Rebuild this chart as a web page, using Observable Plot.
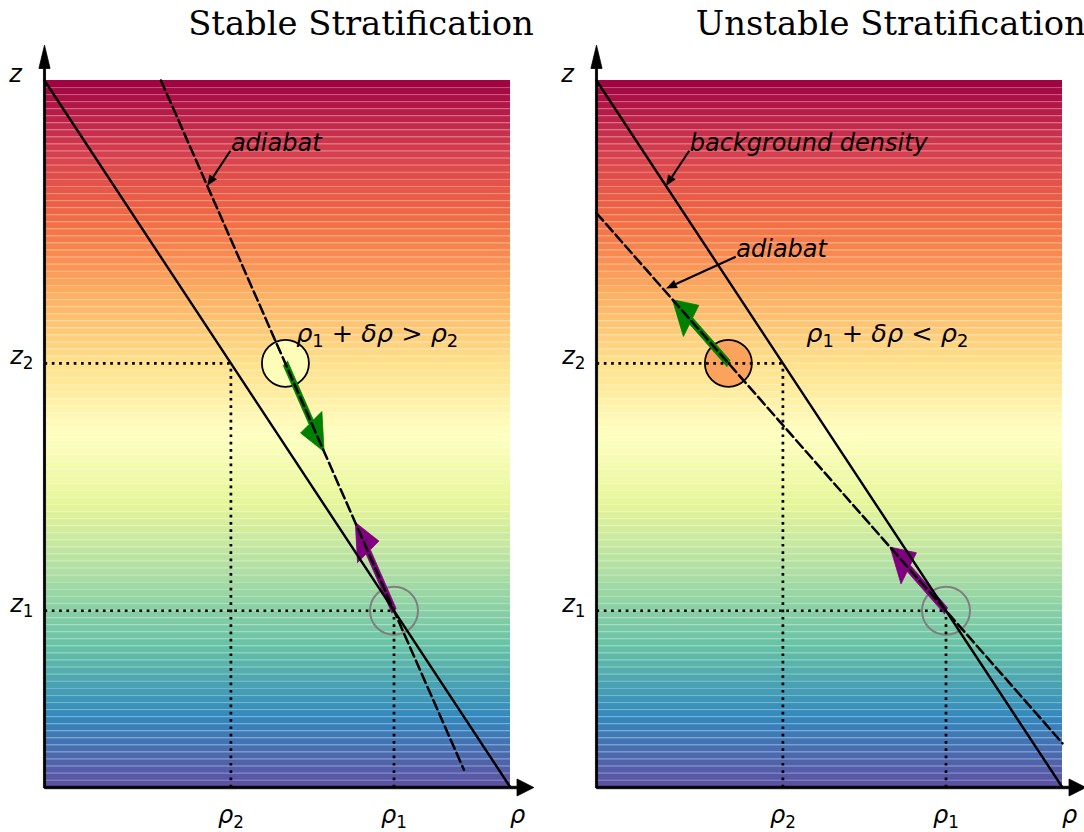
<!DOCTYPE html>
<html>
<head>
<meta charset="utf-8">
<script src="https://cdn.jsdelivr.net/npm/d3@7"></script>
<script src="https://cdn.jsdelivr.net/npm/@observablehq/plot@0.6"></script>
<style>
  body { margin: 0; background: #fff; }
  #chart { display: flex; width: 1084px; height: 832px; }
  #chart svg { overflow: visible; flex: none; }
</style>
</head>
<body>
<div id="chart"></div>
<script>
// ColorBrewer Spectral, interpolated linearly between its 11 stops
const spectralStops = ["#9e0142", "#d53e4f", "#f46d43", "#fdae61", "#fee08b", "#ffffbf",
                       "#e6f598", "#abdda4", "#66c2a5", "#3288bd", "#5e4fa2"];
const spectral = d3.piecewise(d3.interpolateRgb, spectralStops);

// Horizontal colour bands of the background stratification (z = 0 bottom, 1 top)
const bandCount = 100;
const bands = d3.range(bandCount).map(i => ({z1: i / bandCount, z2: (i + 1) / bandCount}));

const panelTitles = ["Stable Stratification", "Unstable Stratification"];

// Two reference levels: heights z1, z2 and background densities ρ1, ρ2
const levelNames = ["1", "2"];
const zLevel = [0.25, 0.6];
const rhoLevel = [0.75, 0.4];

// Background density profile (linear, ρ = 1 − z)
const backgroundRho = [0, 1];
const backgroundZ = [1, 0];

// Adiabats through (ρ1, z1)
const adiabatStableRho = [0.25, 0.9];
const adiabatStableZ = [1, 0.025];
const adiabatUnstableRho = [0, 1];
const adiabatUnstableZ = [0.8125, 0.0625];

// Density the lifted parcel carries once it reaches z2
const parcelRho = [0.517, 0.283];

// Displacement arrows: [ρ tail, z tail, ρ tip, z tip]
const liftStable = [0.75, 0.25, 0.667, 0.375];
const forceStable = [0.517, 0.6, 0.6, 0.475];
const liftUnstable = [0.75, 0.25, 0.63, 0.34];
const forceUnstable = [0.283, 0.6, 0.163, 0.69];

// Annotations: label, text anchor (ρ, z), arrow target (ρ, z)
const notesStable = [
  {label: "adiabat", rho: 0.4, z: 0.9, toRho: 0.35, toZ: 0.85}
];
const notesUnstable = [
  {label: "background density", rho: 0.2, z: 0.9, toRho: 0.15, toZ: 0.85},
  {label: "adiabat", rho: 0.3, z: 0.75, toRho: 0.15, toZ: 0.705}
];

const relations = ["$ρ_1 + δρ > ρ_2$", "$ρ_1 + δρ < ρ_2$"];
const relationAt = [[0.54, 0.63], [0.45, 0.63]];

// Outline of a filled arrow built in data space (like a matplotlib FancyArrow)
function arrowOutline([x0, y0, x1, y1], width, headWidth, headLength) {
  const dx = x1 - x0, dy = y1 - y0, L = Math.hypot(dx, dy);
  const ux = dx / L, uy = dy / L, nx = -uy, ny = ux;
  const s = L - headLength;
  const at = (a, b) => [x0 + ux * a + nx * b, y0 + uy * a + ny * b];
  return [at(0, width / 2), at(s, width / 2), at(s, headWidth / 2), [x1, y1],
          at(s, -headWidth / 2), at(s, -width / 2), at(0, -width / 2), at(0, width / 2)];
}

function fancyArrow(seg, color, width, headWidth, headLength) {
  return Plot.line(arrowOutline(seg, width, headWidth, headLength), {
    x: d => d[0], y: d => d[1], fill: color, stroke: color, strokeWidth: 0.8, curve: "linear"
  });
}

// Thin pointer arrows from a label to a curve, drawn in screen space
function pointers(list) {
  return (index, {x, y}) => {
    const g = d3.create("svg:g").attr("fill", "black").attr("stroke", "black");
    for (const p of list) {
      const x0 = x(p.rho), y0 = y(p.z), x1 = x(p.toRho), y1 = y(p.toZ);
      const a = Math.atan2(y1 - y0, x1 - x0), c = Math.cos(a), s = Math.sin(a);
      const hl = 11, hw = 4.5;
      const bx = x1 - hl * c, by = y1 - hl * s;
      g.append("line").attr("x1", x0).attr("y1", y0).attr("x2", bx).attr("y2", by)
        .attr("stroke-width", 2);
      g.append("path").attr("stroke", "none")
        .attr("d", `M${x1},${y1}L${bx - hw * s},${by + hw * c}L${bx + hw * s},${by - hw * c}Z`);
    }
    return g.node();
  };
}

// Turn "$...$" strings into italic symbols, upright operators and subscripts
const SVGNS = "http://www.w3.org/2000/svg";
function typeset(svg) {
  for (const t of svg.querySelectorAll("text")) {
    const s = t.textContent;
    if (!/^\$.*\$$/.test(s)) continue;
    t.textContent = "";
    t.style.whiteSpace = "pre";
    let shift = 0;
    for (const m of s.slice(1, -1).matchAll(/_(\w)|([A-Za-z\u0370-\u03ff]+)|([^_A-Za-z\u0370-\u03ff]+)/g)) {
      const ts = document.createElementNS(SVGNS, "tspan");
      if (m[1]) {
        ts.textContent = m[1];
        ts.setAttribute("font-size", "0.7em");
        ts.setAttribute("font-style", "normal");
        ts.setAttribute("dy", 5 - shift);
        shift = 5;
      } else {
        ts.textContent = m[2] || m[3];
        ts.setAttribute("font-style", m[2] ? "italic" : "normal");
        if (shift) { ts.setAttribute("dy", -shift); shift = 0; }
      }
      t.appendChild(ts);
    }
  }
}

function panel(i) {
  const stable = i === 0;
  const adiabatRho = stable ? adiabatStableRho : adiabatUnstableRho;
  const adiabatZ = stable ? adiabatStableZ : adiabatUnstableZ;
  const lift = stable ? liftStable : liftUnstable;
  const force = stable ? forceStable : forceUnstable;
  const notes = stable ? notesStable : notesUnstable;
  const guides = levelNames.flatMap((_, k) => [
    {x1: 0, y1: zLevel[k], x2: rhoLevel[k], y2: zLevel[k]},
    {x1: rhoLevel[k], y1: 0, x2: rhoLevel[k], y2: zLevel[k]}
  ]);
  // parcel at z2 after the lift, and the outline of its starting position
  const parcel = [{rho: force[0], z: force[1]}];
  const origin = [{rho: lift[0], z: lift[1]}];

  const svg = Plot.plot({
    width: 542,
    height: 832,
    marginLeft: stable ? 44 : 54,
    marginRight: stable ? 32 : 22,
    marginTop: 80,
    marginBottom: 45,
    x: {domain: [0, 1], axis: null},
    y: {domain: [0, 1], axis: null},
    color: {type: "identity"},
    style: {fontFamily: "DejaVu Sans", background: "white", overflow: "visible"},
    marks: [
      Plot.rect(bands, {x1: 0, x2: 1, y1: "z1", y2: "z2",
        fill: d => spectral(1 - (d.z1 + d.z2) / 2)}),
      Plot.ruleY(bands.slice(1), {y: "z1", x1: 0, x2: 1, stroke: "white",
        strokeOpacity: 0.25, strokeWidth: 1}),
      Plot.dot(parcel, {x: "rho", y: "z", r: 23.5, fill: spectral(parcelRho[i]),
        stroke: "black", strokeWidth: 1.8}),
      Plot.dot(origin, {x: "rho", y: "z", r: 24, fill: "none", stroke: "#808080", strokeWidth: 2}),
      fancyArrow(force, "green", 0.011, 0.055, 0.05),
      fancyArrow(lift, "purple", 0.011, 0.055, 0.05),
      Plot.link(guides, {x1: "x1", y1: "y1", x2: "x2", y2: "y2", stroke: "black",
        strokeWidth: 2.7, strokeDasharray: "2.7,4.6"}),
      Plot.line(adiabatRho.map((r, k) => [r, adiabatZ[k]]), {x: d => d[0], y: d => d[1],
        stroke: "black", strokeWidth: 2.5, strokeDasharray: "10,4.4"}),
      Plot.line(backgroundRho.map((r, k) => [r, backgroundZ[k]]), {x: d => d[0], y: d => d[1],
        stroke: "black", strokeWidth: 2.4}),
      // coordinate axes with arrow heads
      fancyArrow([0, 0, 1.05, 0], "black", 0.0035, 0.024, 0.036),
      fancyArrow([0, 0, 0, 1.05], "black", 0.0045, 0.024, 0.033),
      pointers(notes),
      Plot.text(notes, {x: "rho", y: "z", text: "label", textAnchor: "start", lineAnchor: "bottom",
        fontStyle: "italic", fontSize: 24, fill: "black"}),
      Plot.text([relations[i]], {x: relationAt[i][0], y: relationAt[i][1], text: d => d,
        textAnchor: "start", lineAnchor: "bottom", fontSize: 25.5, fill: "black"}),
      // axis and level labels
      Plot.text(["$z$"], {x: 0, y: 1, dx: -29, dy: 1, text: d => d, textAnchor: "middle",
        lineAnchor: "bottom", fontSize: 24, fill: "black"}),
      Plot.text(["$ρ$"], {x: 1, y: 0, dx: 7, dy: 35, text: d => d, textAnchor: "middle",
        lineAnchor: "bottom", fontSize: 24, fill: "black"}),
      Plot.text(levelNames, {x: 0, y: (d, k) => zLevel[k], dx: -11, dy: 1,
        text: d => `$z_${d}$`, textAnchor: "end", lineAnchor: "bottom", fontSize: 24, fill: "black"}),
      Plot.text(levelNames, {x: (d, k) => rhoLevel[k], y: 0, dy: 35,
        text: d => `$ρ_${d}$`, textAnchor: "middle", lineAnchor: "bottom", fontSize: 24, fill: "black"}),
      Plot.text([panelTitles[i]], {x: 1.05, y: 1, dy: -46, text: d => d, textAnchor: "end",
        lineAnchor: "bottom", fontFamily: "DejaVu Serif", fontSize: 33.8, fill: "black"})
    ]
  });
  typeset(svg);
  return svg;
}

const chart = document.getElementById("chart");
chart.append(panel(0), panel(1));
</script>
</body>
</html>
